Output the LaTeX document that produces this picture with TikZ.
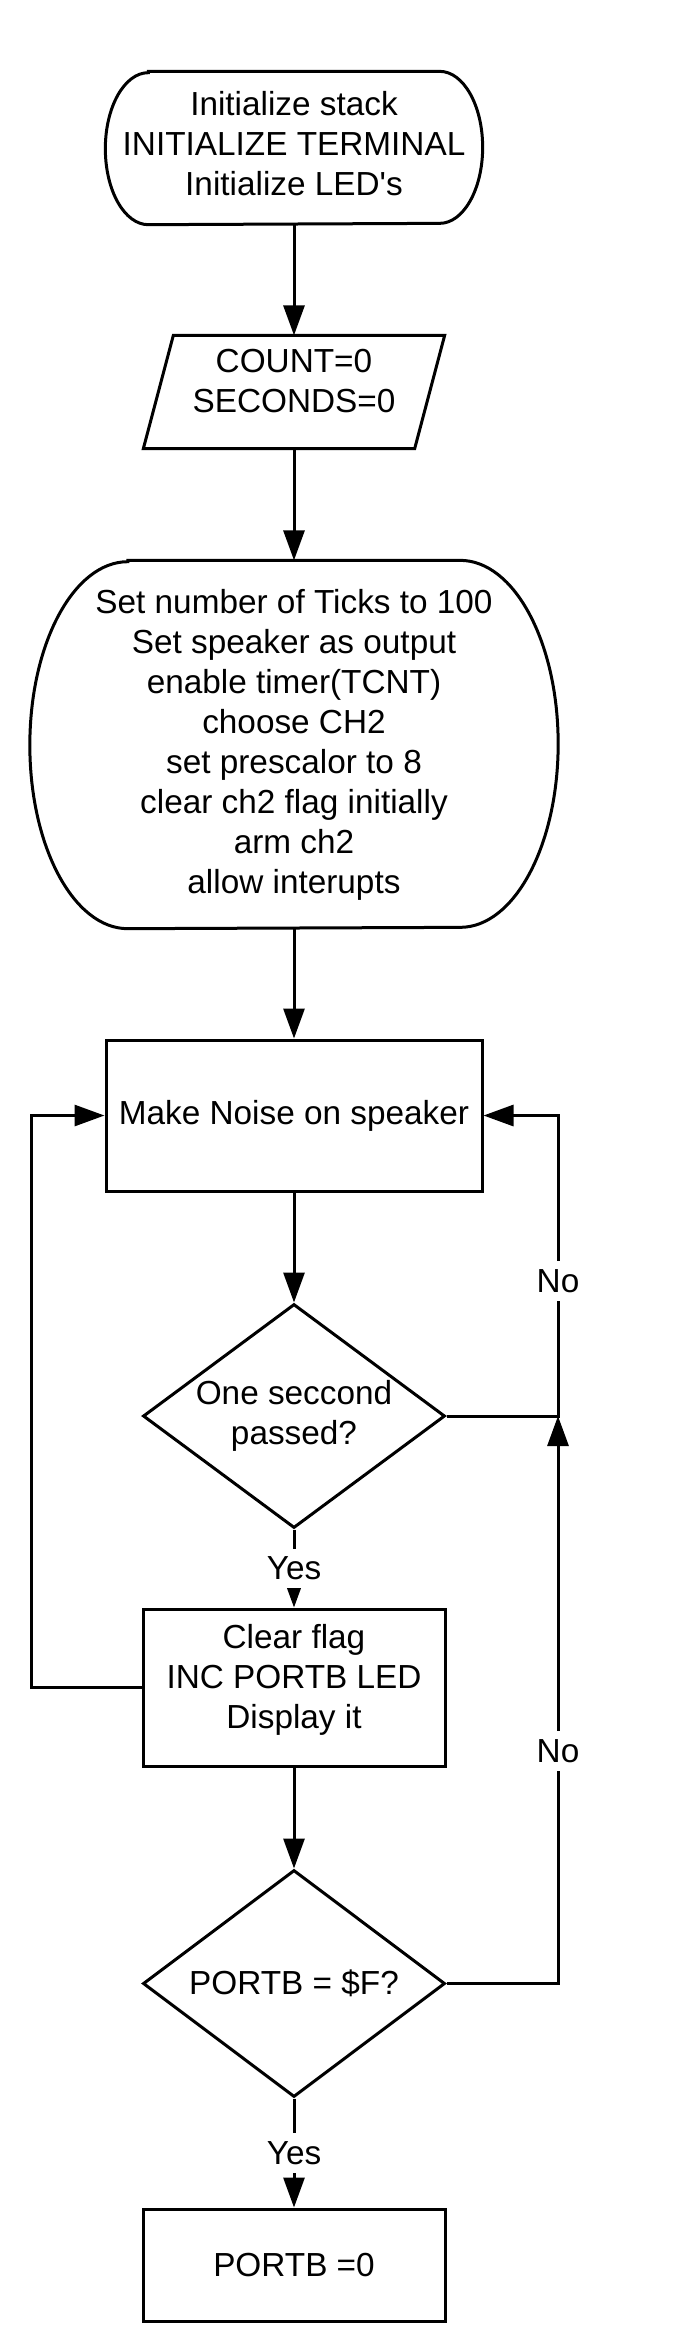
\documentclass[tikz,border=0pt]{standalone}
\usepackage{fontspec}
\newfontfamily\flowfont{Liberation Sans}
\usetikzlibrary{arrows.meta,shapes.geometric}
\tikzset{
  flowline/.style={line width=0.9pt},
  flowarrow/.style={flowline,-{Triangle[length=9pt,width=6.3pt]}},
  plain/.style={align=center,inner sep=0pt},
  box/.style={draw,flowline,rectangle,align=center,inner sep=0pt},
  decision/.style={draw,flowline,diamond,aspect=1.35,align=center,inner sep=0pt},
  answer/.style={fill=white,inner sep=2.5pt},
}
% outline with half-ellipse ends round a plain node
\newcommand\roundsides[3]{%
  \draw[flowline] ([xshift=#2]#1.north west) -- ([xshift=-#2]#1.north east)
    arc[start angle=90,end angle=-90,x radius=#2,y radius=#3]
    -- ([xshift=#2]#1.south west)
    arc[start angle=270,end angle=90,x radius=#2,y radius=#3] -- cycle;}

\begin{document}
\begin{tikzpicture}[font=\flowfont\fontsize{10pt}{12pt}\selectfont]
\fill[white] (0,0) rectangle (208.2pt,-702.6pt);
\useasboundingbox (0,0) rectangle (208.2pt,-702.6pt);

\coordinate (leftrail) at (9.3pt,0);
\coordinate (rightrail) at (167.4pt,0);

% start
\node[plain,minimum width=112.8pt,minimum height=45.6pt,text depth=2.5pt] (init) at (88.2pt,-44.4pt)
  {Initialize stack\\INITIALIZE TERMINAL\\Initialize LED's};
\roundsides{init}{12.9pt}{22.8pt}

% counters
\node[plain,minimum width=81pt,minimum height=33.6pt,text depth=6.5pt] (counters) at (88.2pt,-117.6pt)
  {COUNT=0\\SECONDS=0};
\draw[flowline] ([xshift=4.5pt]counters.north west) -- ([xshift=4.5pt]counters.north east)
  -- ([xshift=-4.5pt]counters.south east) -- ([xshift=-4.5pt]counters.south west) -- cycle;

% timer setup
\node[plain,minimum width=158.1pt,minimum height=110.1pt] (setup) at (88.2pt,-223.35pt)
  {Set number of Ticks to 100\\Set speaker as output\\enable timer(TCNT)\\choose CH2\\
   set prescalor to 8\\clear ch2 flag initially\\arm ch2\\allow interupts};
\roundsides{setup}{29.4pt}{55.05pt}

% main loop
\node[box,minimum width=112.8pt,minimum height=45.3pt] (noise) at (88.2pt,-334.65pt)
  {Make Noise on speaker};
\node[decision,minimum width=90.6pt,minimum height=67.2pt] (onesec) at (88.2pt,-424.8pt)
  {One seccond\\passed?};
\node[box,minimum width=90.6pt,minimum height=47.1pt,text depth=6.5pt] (clear) at (88.2pt,-506.25pt)
  {Clear flag\\INC PORTB LED\\Display it};
\node[decision,minimum width=90.6pt,minimum height=68.1pt] (full) at (88.2pt,-595.05pt)
  {PORTB = \$F?};
\node[box,minimum width=90.6pt,minimum height=33.6pt] (reset) at (88.2pt,-679.5pt)
  {PORTB =0};

% connectors
\draw[flowarrow] (init.south) -- (counters.north);
\draw[flowarrow] (counters.south) -- (setup.north);
\draw[flowarrow] (setup.south) -- (noise.north);
\draw[flowarrow] (noise.south) -- (onesec.north);
\draw[flowarrow] (onesec.south) -- node[answer]{Yes} (clear.north);
\draw[flowarrow] (clear.south) -- (full.north);
\draw[flowarrow] (full.south) -- node[answer]{Yes} (reset.north);
\draw[flowarrow] (clear.west) -- (clear.west -| leftrail) |- (noise.west);
\draw[flowarrow] (onesec.east) -- (onesec.east -| rightrail) |- node[answer,pos=0.225]{No} (noise.east);
\draw[flowarrow] (full.east) -- (full.east -| rightrail) -- node[answer,pos=0.41]{No} (onesec.east -| rightrail);
\end{tikzpicture}
\end{document}
